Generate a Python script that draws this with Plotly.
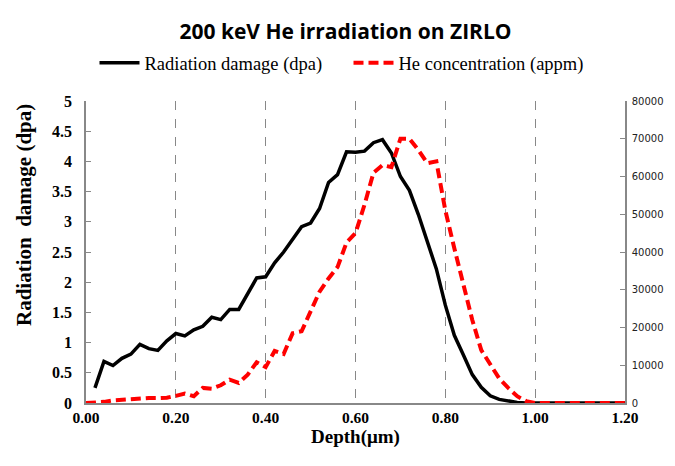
import plotly.graph_objects as go

# Depth (um)
depth_dpa = [0.02, 0.04, 0.06, 0.08, 0.10, 0.12, 0.14, 0.16, 0.18, 0.20,
             0.22, 0.24, 0.26, 0.28, 0.30, 0.32, 0.34, 0.36, 0.38, 0.40,
             0.42, 0.44, 0.46, 0.48, 0.50, 0.52, 0.54, 0.56, 0.58, 0.60,
             0.62, 0.64, 0.66, 0.68, 0.70, 0.72, 0.74, 0.76, 0.78, 0.80,
             0.82, 0.84, 0.86, 0.88, 0.90, 0.92, 0.94, 0.96, 0.98, 1.00,
             1.02, 1.04, 1.06, 1.08, 1.10, 1.12, 1.14, 1.16, 1.18, 1.20]
dpa = [0.25, 0.69, 0.62, 0.74, 0.81, 0.97, 0.90, 0.87, 1.03, 1.15,
       1.11, 1.21, 1.27, 1.42, 1.38, 1.55, 1.55, 1.80, 2.07, 2.09,
       2.32, 2.50, 2.70, 2.92, 2.98, 3.22, 3.65, 3.78, 4.16, 4.15,
       4.17, 4.31, 4.36, 4.14, 3.75, 3.52, 3.12, 2.68, 2.22, 1.62,
       1.12, 0.80, 0.47, 0.26, 0.12, 0.06, 0.03, 0.01, 0.0, 0.0,
       0.0, 0.0, 0.0, 0.0, 0.0, 0.0, 0.0, 0.0, 0.0, 0.0]

depth_he = [0.00, 0.02, 0.04, 0.06, 0.08, 0.10, 0.12, 0.14, 0.16, 0.18, 0.20,
            0.22, 0.24, 0.26, 0.28, 0.30, 0.32, 0.34, 0.36, 0.38, 0.40,
            0.42, 0.44, 0.46, 0.48, 0.50, 0.52, 0.54, 0.56, 0.58, 0.60,
            0.62, 0.64, 0.66, 0.68, 0.70, 0.72, 0.74, 0.76, 0.78, 0.80,
            0.82, 0.84, 0.86, 0.88, 0.90, 0.92, 0.94, 0.96, 0.98, 1.00,
            1.02, 1.04, 1.06, 1.08, 1.10, 1.12, 1.14, 1.16, 1.18, 1.20]
he_appm = [0, 100, 300, 700, 900, 1000, 1100, 1300, 1300, 1400, 1900,
           2500, 1800, 4000, 3800, 4700, 6200, 5300, 7500, 10800, 9500,
           13800, 13000, 18500, 19000, 24000, 29500, 33000, 36000, 42500, 45000,
           52500, 61000, 63000, 62500, 70000, 70000, 67000, 63500, 64000, 51000,
           41000, 31000, 22000, 14000, 10000, 6500, 4000, 1800, 500, 0,
           0, 0, 0, 0, 0, 0, 0, 0, 0, 0]

x_ticks = [0.0, 0.2, 0.4, 0.6, 0.8, 1.0, 1.2]

serif = "Liberation Serif, Times New Roman, serif"

fig = go.Figure()
fig.add_trace(go.Scatter(
    x=depth_dpa, y=dpa, mode="lines", name="Radiation damage (dpa)",
    line=dict(color="black", width=3.5), yaxis="y"))
fig.add_trace(go.Scatter(
    x=depth_he, y=he_appm, mode="lines", name="He concentration (appm)",
    line=dict(color="#ff0000", width=4, dash="10px,5px"), yaxis="y2"))

fig.add_annotation(
    text="<b>Radiation  damage (dpa)</b>", textangle=-90,
    xref="paper", yref="paper", x=(16 - 78) / 539, y=(395 - 207) / 302,
    xanchor="center", yanchor="middle", showarrow=False,
    font=dict(family=serif, size=21, color="black"))

fig.update_layout(
    width=675, height=466,
    margin=dict(l=78, r=58, t=93, b=71),
    paper_bgcolor="white", plot_bgcolor="white",
    title=dict(text="<b>200 keV He irradiation on ZIRLO</b>",
               font=dict(family="Open Sans, sans-serif", size=21, color="black"),
               x=0.5, xanchor="center", y=1 - 24 / 466, yanchor="middle"),
    legend=dict(orientation="h", x=0.5 - 7 / 539, xanchor="center", y=1.125, yanchor="middle",
                font=dict(family=serif, size=18.5, color="black"),
                bgcolor="rgba(0,0,0,0)", itemwidth=40, tracegroupgap=0,
                entrywidth=199, entrywidthmode="pixels"),
    xaxis=dict(range=[0, 1.2], tickvals=x_ticks, tickformat=".2f",
               showline=True, linecolor="#888", linewidth=1.5,
               showgrid=True, gridcolor="#888", griddash="dash", gridwidth=1,
               zeroline=False, ticks="",
               tickfont=dict(family=serif, size=15.5, color="black", weight="bold"),
               title=dict(text="<b>Depth(μm)</b>", standoff=3,
                          font=dict(family=serif, size=19, color="black"))),
    yaxis=dict(range=[0, 5], dtick=0.5, showline=True, linecolor="#888", linewidth=1.5,
               showgrid=False, zeroline=False, ticks="inside", ticklen=5, tickcolor="#888",
               ticklabelstandoff=9,
               tickfont=dict(family=serif, size=16, color="black", weight="bold")),
    yaxis2=dict(range=[0, 80000], dtick=10000, tickformat="d", overlaying="y", side="right",
                showline=True, linecolor="#888", linewidth=1.5, showgrid=False, zeroline=False,
                ticks="inside", ticklen=5, tickcolor="#888", ticklabelstandoff=3,
                tickfont=dict(family="DejaVu Sans, Verdana, sans-serif", size=10, color="#222")),
)

fig.write_html("out.html")
